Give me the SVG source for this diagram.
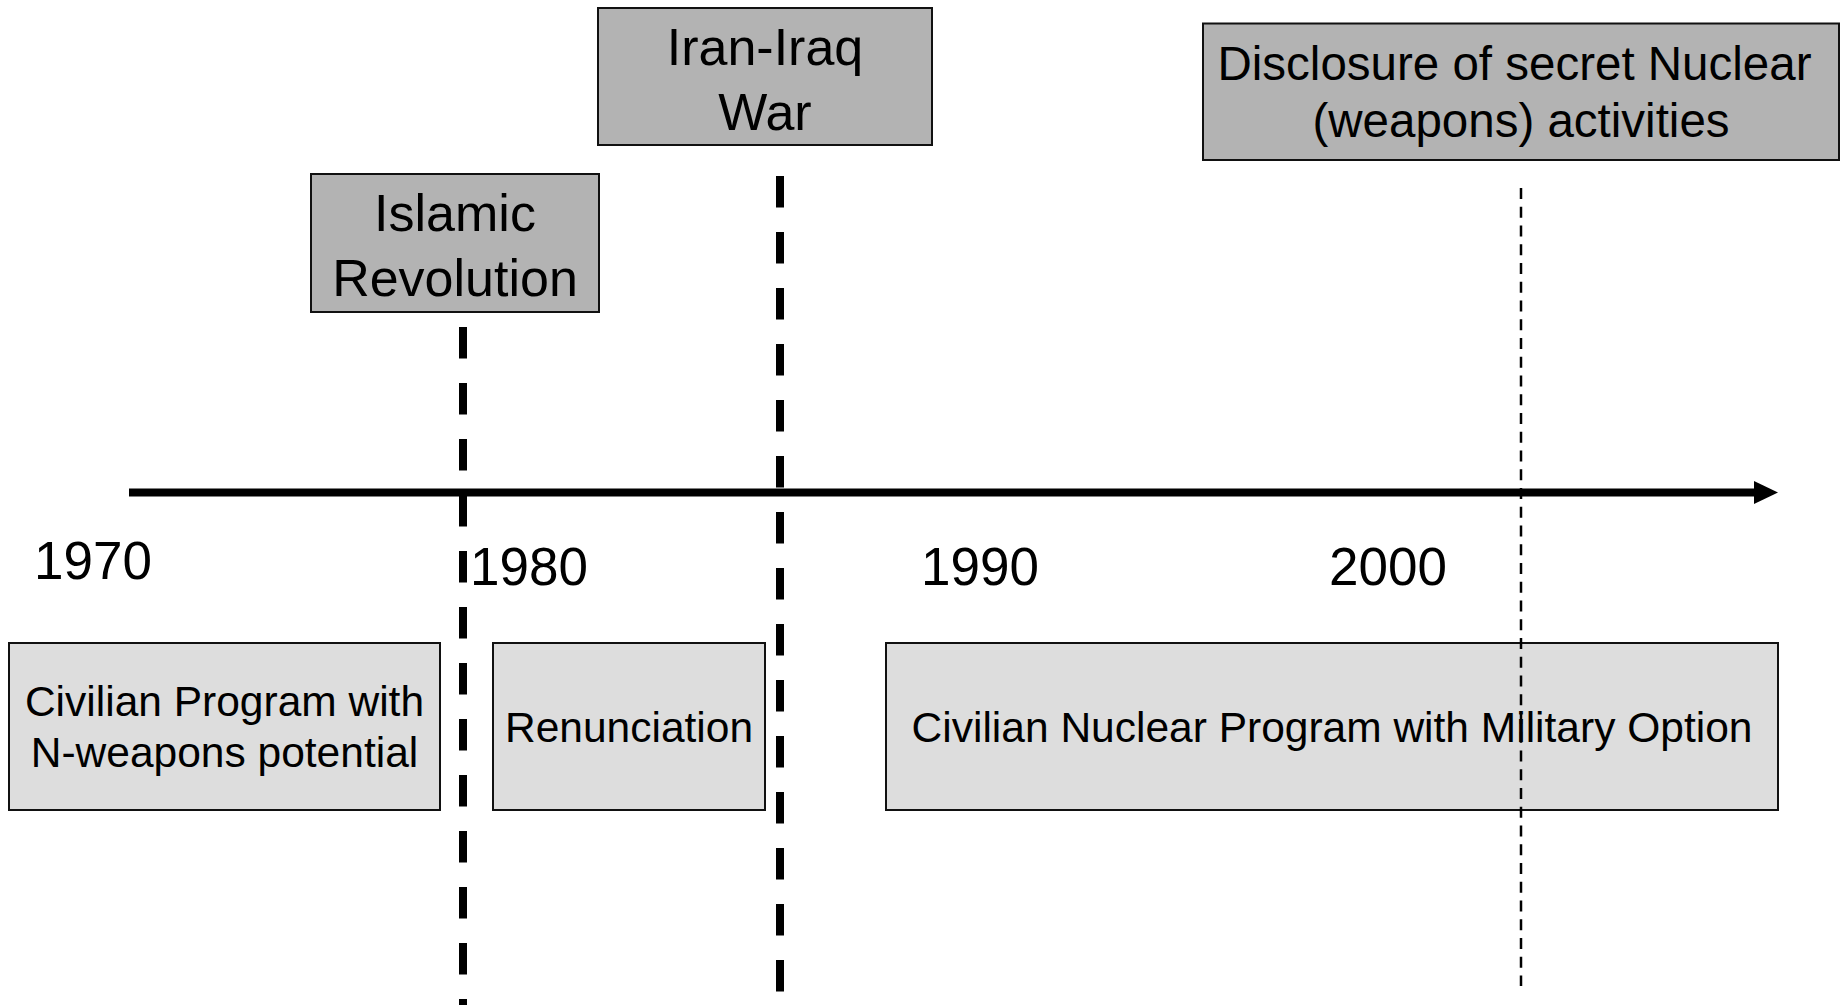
<svg xmlns="http://www.w3.org/2000/svg" width="1845" height="1005" viewBox="0 0 1845 1005">
<style>
.ev{fill:#b3b3b3;stroke:#111;stroke-width:2}
.ph{fill:#dddddd;stroke:#111;stroke-width:2}
text{font-family:"Liberation Sans",Arial,sans-serif;fill:#000}
.big{font-size:52px;text-anchor:middle}
.dis{font-size:47.5px;text-anchor:middle}
.lab{font-size:42.5px;text-anchor:middle}
.yr{font-size:53px}
.thick{stroke:#000;stroke-width:8;stroke-dasharray:31.5 24.5;fill:none}
.thin{stroke:#000;stroke-width:2.5;stroke-dasharray:11 7.75;fill:none}
</style>
<rect width="1845" height="1005" fill="#fff"/>
<g id="connectors">
<line x1="129" y1="492.5" x2="1756" y2="492.5" stroke="#000" stroke-width="8"/>
<polygon points="1754,481 1778,492.5 1754,504" fill="#000"/>
<line class="thick" x1="463" y1="327" x2="463" y2="1005"/>
<line class="thick" x1="780" y1="176" x2="780" y2="992"/>
</g>
<g id="years">
<text class="yr" x="34" y="579">1970</text>
<text class="yr" x="470" y="585">1980</text>
<text class="yr" x="921" y="585">1990</text>
<text class="yr" x="1329" y="585">2000</text>
</g>
<g id="islamic-revolution">
<rect class="ev" x="311" y="174" width="288" height="138"/>
<text class="big" x="455" y="231">Islamic</text>
<text class="big" x="455" y="296">Revolution</text>
</g>
<g id="iran-iraq-war">
<rect class="ev" x="598" y="8" width="334" height="137"/>
<text class="big" x="765" y="65">Iran-Iraq</text>
<text class="big" x="765" y="130">War</text>
</g>
<g id="disclosure">
<rect class="ev" x="1203" y="23.5" width="636" height="136.5"/>
<text class="dis" x="1514.5" y="80">Disclosure of secret Nuclear</text>
<text class="dis" x="1521" y="137">(weapons) activities</text>
</g>
<g id="civilian-program">
<rect class="ph" x="9" y="643" width="431" height="167"/>
<text class="lab" x="224.5" y="716">Civilian Program with</text>
<text class="lab" x="224.5" y="767">N-weapons potential</text>
</g>
<g id="renunciation">
<rect class="ph" x="493" y="643" width="272" height="167"/>
<text class="lab" x="629" y="742">Renunciation</text>
</g>
<g id="civilian-nuclear-program">
<rect class="ph" x="886" y="643" width="892" height="167"/>
<text class="lab" x="1332" y="742">Civilian Nuclear Program with Military Option</text>
</g>
<g id="disclosure-marker">
<line class="thin" x1="1521" y1="188" x2="1521" y2="986"/>
</g>
</svg>
